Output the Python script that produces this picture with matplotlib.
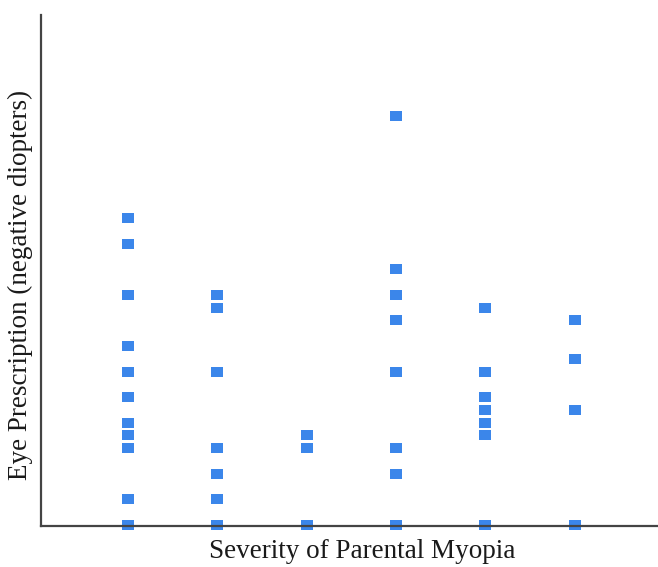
import matplotlib.pyplot as plt

# Severity categories (1 = lowest ... 6 = highest), no tick labels shown
severity = [1, 2, 3, 4, 5, 6]
# eye prescription readings per severity group (negative diopters)
rx_1 = [0, 0.5, 1.5, 1.75, 2, 2.5, 3, 3.5, 4.5, 5.5, 6]
rx_2 = [0, 0.5, 1, 1.5, 3, 4.25, 4.5]
rx_3 = [0, 1.5, 1.75]
rx_4 = [0, 1, 1.5, 3, 4, 4.5, 5, 8]
rx_5 = [0, 1.75, 2, 2.25, 2.5, 3, 4.25]
rx_6 = [0, 2.25, 3.25, 4]
groups = [rx_1, rx_2, rx_3, rx_4, rx_5, rx_6]

fig = plt.figure(figsize=(6.58, 5.67), dpi=100)
ax = fig.add_axes([41/658, 1 - 526/567, 617/658, 511/567])

rect = [(-1, -0.8), (1, -0.8), (1, 0.8), (-1, 0.8), (-1, -0.8)]
for s, vals in zip(severity, groups):
    ax.plot([s] * len(vals), vals, linestyle='none', marker=rect,
            markersize=9, color='#3b86ea', markeredgewidth=0,
            clip_on=False, zorder=2)

ax.set_xlim(0.03, 6.93)
ax.set_ylim(-0.02, 9.97)
ax.set_xticks([])
ax.set_yticks([])
for side in ['top', 'right']:
    ax.spines[side].set_visible(False)
for side in ['left', 'bottom']:
    ax.spines[side].set_color('#444444')
    ax.spines[side].set_linewidth(1.6)
    ax.spines[side].set_zorder(3)

fig.text(362/658, 1 - 551/567, 'Severity of Parental Myopia', family='Liberation Serif',
         fontsize=19.5, ha='center', va='center', color='#1a1a1a')
fig.text(20/658, 1 - 285/567, 'Eye Prescription (negative diopters)', family='Liberation Serif',
         fontsize=19.5, ha='center', va='center', rotation=90, color='#1a1a1a')

fig.savefig('out.png', dpi=100)
